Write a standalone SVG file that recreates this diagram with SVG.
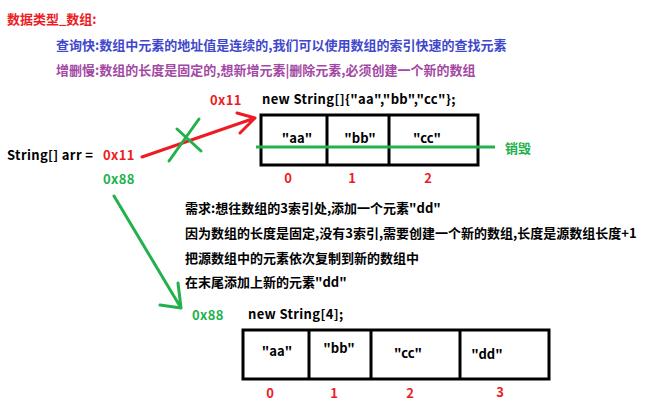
<svg xmlns="http://www.w3.org/2000/svg" width="657" height="407" viewBox="0 0 657 407">
<style>
text{font-family:"Noto Sans CJK SC","Microsoft YaHei",sans-serif;font-weight:bold;font-size:13px;}
.k{fill:#000}
.r{fill:#ed1c24}
.g{fill:#22b14c}
.b{fill:#3f48cc}
.p{fill:#a349a4}
.m{text-anchor:middle}
.l{letter-spacing:0.35px}
.box{fill:none;stroke:#000;stroke-width:3}
.div{stroke:#000;stroke-width:3}
</style>
<rect width="657" height="407" fill="#fff"/>
<g id="header">
<text class="r" x="7" y="24">数据类型_数组:</text>
<text class="b" x="56" y="50">查询快:数组中元素的地址值是连续的,我们可以使用数组的索引快速的查找元素</text>
<text class="p" x="56" y="75">增删慢:数组的长度是固定的,想新增元素|删除元素,必须创建一个新的数组</text>
</g>
<g id="variable">
<text class="k l" x="7" y="160">String[] arr =</text>
<text class="r l" x="103" y="160">0x11</text>
<text class="g l" x="103" y="184">0x88</text>
</g>
<g id="old-array">
<text class="r l" x="210" y="105">0x11</text>
<text class="k l" x="262" y="104">new String[]{"aa","bb","cc"};</text>
<rect class="box" x="261" y="115" width="217" height="50"/>
<line class="div" x1="327" y1="115" x2="327" y2="165"/>
<line class="div" x1="389" y1="115" x2="389" y2="165"/>
<text class="k m" x="297" y="143">"aa"</text>
<text class="k m" x="360" y="143">"bb"</text>
<text class="k m" x="427" y="143">"cc"</text>
<text class="r m" x="288" y="183">0</text>
<text class="r m" x="352" y="183">1</text>
<text class="r m" x="428" y="183">2</text>
<line x1="256" y1="147" x2="495" y2="147" stroke="#22b14c" stroke-width="3"/>
<text class="g" x="505" y="153">销毁</text>
</g>
<g id="notes">
<text class="k" x="185" y="213">需求:想往数组的3索引处,添加一个元素"dd"</text>
<text class="k" x="185" y="238">因为数组的长度是固定,没有3索引,需要创建一个新的数组,长度是源数组长度+1</text>
<text class="k" x="185" y="263">把源数组中的元素依次复制到新的数组中</text>
<text class="k" x="185" y="287">在末尾添加上新的元素"dd"</text>
</g>
<g id="new-array">
<text class="g l" x="192" y="320">0x88</text>
<text class="k l" x="248" y="319">new String[4];</text>
<rect class="box" x="243" y="330" width="306" height="49"/>
<line class="div" x1="309" y1="330" x2="309" y2="379"/>
<line class="div" x1="371" y1="330" x2="371" y2="379"/>
<line class="div" x1="460" y1="330" x2="460" y2="379"/>
<text class="k m" x="277" y="356">"aa"</text>
<text class="k m" x="339" y="353">"bb"</text>
<text class="k m" x="408" y="358">"cc"</text>
<text class="k m" x="487" y="359">"dd"</text>
<text class="r m" x="270" y="398">0</text>
<text class="r m" x="334" y="398">1</text>
<text class="r m" x="410" y="398">2</text>
<text class="r m" x="500" y="397">3</text>
</g>
<g id="connectors" fill="none" stroke-width="3" stroke-linecap="round" stroke-linejoin="round">
<path d="M142 157 L255 118 M237 113 L255 118 L240 133" stroke="#ed1c24"/>
<path d="M169 161 L199 119 M177 129 L201 151" stroke="#22b14c"/>
<path d="M114 196 L181 308 M178 283 L181 308 L160 305" stroke="#22b14c"/>
</g>
</svg>
